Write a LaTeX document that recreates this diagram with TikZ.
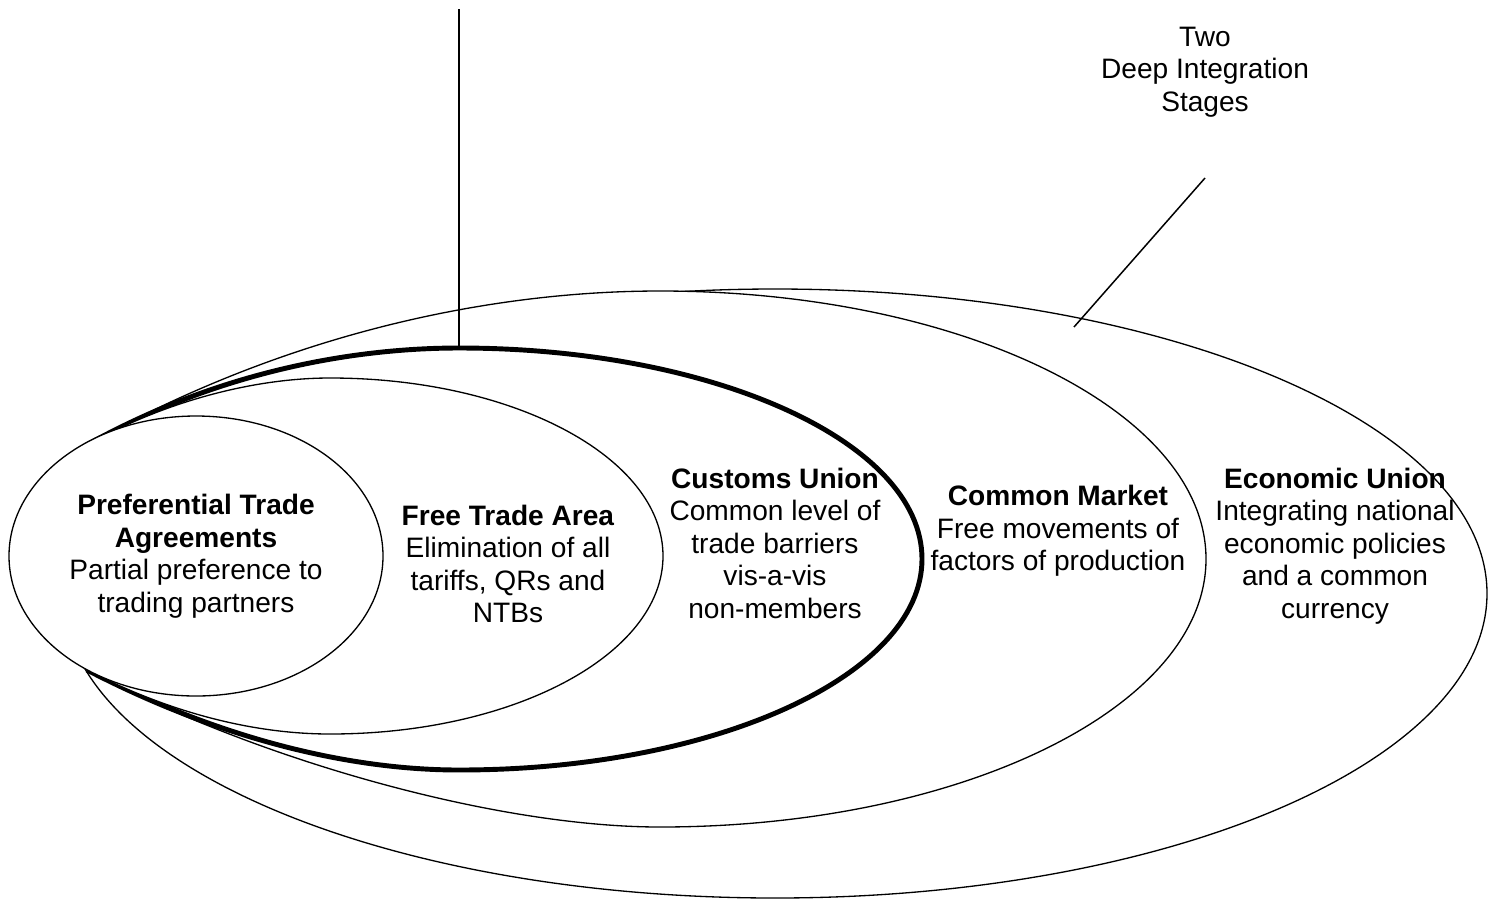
\documentclass[tikz,border=0pt]{standalone}
\usepackage{fontspec}
\setmainfont{Liberation Sans}
\begin{document}
\begin{tikzpicture}[x=0.02cm,y=-0.02cm,
  shapeline/.style={draw=black,line width=0.75pt,fill=white},
  thickline/.style={draw=black,line width=2.8pt,fill=white},
  labeltext/.style={align=center,inner sep=0pt,font=\fontsize{16pt}{18.5pt}\selectfont},
  connector/.style={draw=black,line width=0.85pt}]
\useasboundingbox (0,0) rectangle (1497,900);
\coordinate (P1) at (83,447);
\coordinate (P2) at (87,670);
% Economic Union
\draw[shapeline] (775,593.5) ellipse [x radius=712, y radius=304.5];
% Common Market
\draw[shapeline] (P1) .. controls (292,329) and (500,291) .. (660,291)
   arc[start angle=-90,end angle=90,x radius=546,y radius=268]
   .. controls (500,827) and (264,763) .. (P2);
% Customs Union
\draw[thickline] (P1) .. controls (214,373) and (350,348) .. (459,348)
   arc[start angle=-90,end angle=90,x radius=463,y radius=211]
   .. controls (350,770) and (220,739) .. (P2);
% Free Trade Area
\draw[shapeline] (P1) .. controls (170,398) and (260,378) .. (330,378)
   arc[start angle=-90,end angle=90,x radius=333,y radius=178]
   .. controls (260,734) and (176,716) .. (P2);
% Preferential Trade Agreements
\draw[shapeline] (196,556) ellipse [x radius=187, y radius=140];
% connectors
\coordinate (vtop) at (459,9);
\coordinate (cutop) at (459,348);
\draw[connector] (vtop) -- (cutop);
\coordinate (dtop) at (1205,178);
\coordinate (dbot) at (1074,327);
\draw[connector] (dtop) -- (dbot);
% texts
\node[labeltext] (pta) at (196,556) {\textbf{Preferential Trade}\\\textbf{Agreements}\\Partial preference to\\trading partners};
\node[labeltext] (fta) at (508,564) {\textbf{Free Trade Area}\\Elimination of all\\tariffs, QRs and\\NTBs};
\node[labeltext] (cu) at (775,543) {\textbf{Customs Union}\\Common level of\\trade barriers\\vis-a-vis\\non-members};
\node[labeltext] (cm) at (1058,531) {\textbf{Common Market}\\Free movements of\\factors of production};
\node[labeltext] (eu) at (1335,546) {\textbf{Economic Union}\\Integrating national\\economic policies\\and a common\\currency};
\node[labeltext] (two) at (1205,72) {Two\\Deep Integration\\Stages};
\end{tikzpicture}
\end{document}
